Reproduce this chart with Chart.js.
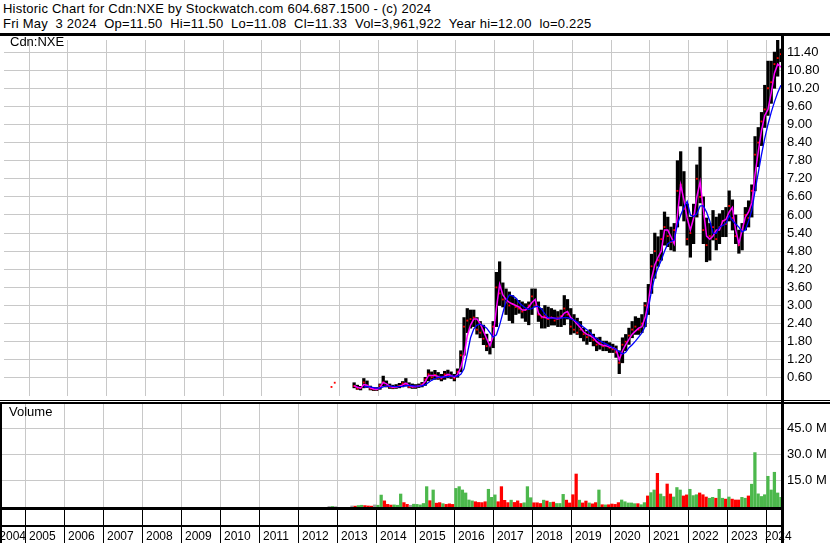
<!DOCTYPE html>
<html>
<head>
<meta charset="utf-8">
<script src="https://cdn.jsdelivr.net/npm/chart.js@4.4.1/dist/chart.umd.min.js"></script>
<style>
  body { margin: 0; background: #fff; }
  #wrap { position: relative; width: 830px; height: 543px; overflow: hidden; font-family: "Liberation Sans", Arial, sans-serif; color: #000; }
  #head { position: absolute; left: 3px; top: 1px; font-size: 13px; letter-spacing: 0.22px; line-height: 15px; white-space: pre; }
  .tag { position: absolute; font-size: 13px; line-height: 15px; }
  .ln { position: absolute; background: #000; }
  canvas { position: absolute; left: 0; }
</style>
</head>
<body>
<div id="wrap">
  <div id="head">Historic Chart for Cdn:NXE by Stockwatch.com 604.687.1500 - (c) 2024
Fri May  3 2024  Op=11.50  Hi=11.50  Lo=11.08  Cl=11.33  Vol=3,961,922  Year hi=12.00  lo=0.225</div>
  <canvas id="price" width="830" height="364" style="top:36px"></canvas>
  <canvas id="vol" width="830" height="142" style="top:401px"></canvas>
  <div class="tag" style="left:10px;top:34px">Cdn:NXE</div>
  <div class="tag" style="left:9px;top:404px">Volume</div>
  <div class="ln" style="left:0;top:33px;width:830px;height:3px"></div>
  <div class="ln" style="left:0;top:400px;width:830px;height:1px"></div>
  <div class="ln" style="left:0;top:402px;width:830px;height:2px"></div>
  <div class="ln" style="left:0;top:507px;width:784px;height:3px"></div>
  <div class="ln" style="left:0;top:525px;width:784px;height:2px"></div>
  <div class="ln" style="left:781px;top:36px;width:3px;height:507px"></div>
  <div class="ln" style="left:0;top:402px;width:2px;height:141px"></div>
</div>
<script>
// monthly bars, Oct 2012 .. May 2024
const months = [
  "2012-10", "2012-11", "2012-12",
  "2013-01", "2013-02", "2013-03", "2013-04", "2013-05", "2013-06", "2013-07", "2013-08", "2013-09", "2013-10", "2013-11", "2013-12",
  "2014-01", "2014-02", "2014-03", "2014-04", "2014-05", "2014-06", "2014-07", "2014-08", "2014-09", "2014-10", "2014-11", "2014-12",
  "2015-01", "2015-02", "2015-03", "2015-04", "2015-05", "2015-06", "2015-07", "2015-08", "2015-09", "2015-10", "2015-11", "2015-12",
  "2016-01", "2016-02", "2016-03", "2016-04", "2016-05", "2016-06", "2016-07", "2016-08", "2016-09", "2016-10", "2016-11", "2016-12",
  "2017-01", "2017-02", "2017-03", "2017-04", "2017-05", "2017-06", "2017-07", "2017-08", "2017-09", "2017-10", "2017-11", "2017-12",
  "2018-01", "2018-02", "2018-03", "2018-04", "2018-05", "2018-06", "2018-07", "2018-08", "2018-09", "2018-10", "2018-11", "2018-12",
  "2019-01", "2019-02", "2019-03", "2019-04", "2019-05", "2019-06", "2019-07", "2019-08", "2019-09", "2019-10", "2019-11", "2019-12",
  "2020-01", "2020-02", "2020-03", "2020-04", "2020-05", "2020-06", "2020-07", "2020-08", "2020-09", "2020-10", "2020-11", "2020-12",
  "2021-01", "2021-02", "2021-03", "2021-04", "2021-05", "2021-06", "2021-07", "2021-08", "2021-09", "2021-10", "2021-11", "2021-12",
  "2022-01", "2022-02", "2022-03", "2022-04", "2022-05", "2022-06", "2022-07", "2022-08", "2022-09", "2022-10", "2022-11", "2022-12",
  "2023-01", "2023-02", "2023-03", "2023-04", "2023-05", "2023-06", "2023-07", "2023-08", "2023-09", "2023-10", "2023-11", "2023-12",
  "2024-01", "2024-02", "2024-03", "2024-04", "2024-05"
];

const high = [
  null, null, null,
  null, null, null, null, 0.44, 0.36, 0.32, 0.58, 0.50, 0.33, 0.28, 0.28,
  0.40, 0.66, 0.50, 0.40, 0.36, 0.38, 0.42, 0.48, 0.58, 0.44, 0.40, 0.38,
  0.40, 0.45, 0.62, 0.87, 0.80, 0.85, 0.78, 0.72, 0.82, 0.86, 0.80, 0.72,
  0.90, 1.50, 2.60, 2.90, 2.85, 2.85, 2.60, 2.47, 2.35, 2.05, 1.80, 2.47,
  4.10, 4.45, 3.75, 3.55, 3.45, 3.33, 3.22, 3.17, 3.12, 3.06, 3.12, 3.55,
  3.55, 3.12, 2.90, 3.00, 2.95, 2.90, 2.85, 2.80, 2.85, 3.33, 3.20, 2.90,
  2.70, 2.58, 2.47, 2.25, 2.14, 2.20, 2.05, 1.93, 1.95, 1.82, 1.82, 1.77,
  1.72, 1.66, 1.50, 1.93, 2.04, 2.25, 2.47, 2.63, 2.58, 2.70, 3.10, 3.70,
  4.70, 5.40, 5.28, 5.50, 6.10, 5.93, 5.60, 5.72, 7.80, 8.10, 7.44, 6.36,
  5.93, 6.36, 7.66, 8.25, 6.60, 5.90, 5.72, 6.15, 5.93, 6.04, 6.15, 6.25,
  6.80, 6.50, 6.00, 5.50, 5.72, 6.25, 6.47, 7.00, 8.60, 8.90, 9.40, 10.30,
  11.10, 11.10, 11.40, 12.00, 11.50
];

const low = [
  null, null, null,
  null, null, null, null, 0.27, 0.22, 0.20, 0.27, 0.28, 0.20, 0.18, 0.18,
  0.22, 0.33, 0.30, 0.25, 0.24, 0.25, 0.27, 0.30, 0.33, 0.27, 0.25, 0.25,
  0.28, 0.30, 0.35, 0.50, 0.55, 0.55, 0.55, 0.50, 0.55, 0.60, 0.58, 0.50,
  0.62, 0.80, 1.35, 2.10, 2.25, 2.30, 2.05, 1.93, 1.70, 1.50, 1.39, 1.60,
  2.30, 3.00, 2.95, 2.70, 2.50, 2.42, 2.70, 2.74, 2.58, 2.47, 2.36, 2.70,
  2.95, 2.47, 2.25, 2.25, 2.30, 2.35, 2.35, 2.30, 2.30, 2.36, 2.55, 2.04,
  2.09, 2.04, 1.93, 1.82, 1.71, 1.80, 1.66, 1.50, 1.55, 1.50, 1.50, 1.44,
  1.44, 1.28, 0.74, 1.10, 1.50, 1.71, 1.93, 2.04, 2.04, 2.10, 2.30, 2.70,
  3.40, 3.90, 4.30, 4.50, 5.00, 4.95, 4.84, 4.80, 5.60, 6.30, 5.80, 5.00,
  4.60, 5.05, 5.93, 6.40, 5.05, 4.45, 4.50, 5.17, 4.84, 5.05, 5.28, 5.28,
  5.80, 5.50, 5.05, 4.73, 4.84, 5.50, 5.60, 5.93, 6.80, 7.60, 8.30, 8.90,
  9.30, 9.70, 10.20, 10.60, 11.08
];

const close = [
  0.30, 0.44, null,
  null, null, null, null, 0.33, 0.25, 0.27, 0.45, 0.31, 0.24, 0.22, 0.22,
  0.35, 0.45, 0.33, 0.30, 0.28, 0.30, 0.33, 0.42, 0.40, 0.30, 0.30, 0.32,
  0.34, 0.38, 0.55, 0.72, 0.62, 0.70, 0.60, 0.58, 0.72, 0.70, 0.65, 0.58,
  0.80, 1.35, 2.30, 2.50, 2.55, 2.60, 2.20, 2.10, 1.90, 1.65, 1.72, 2.30,
  3.60, 3.40, 3.20, 3.10, 3.00, 3.05, 2.95, 2.90, 2.80, 2.85, 3.00, 3.30,
  3.00, 2.70, 2.60, 2.65, 2.55, 2.60, 2.50, 2.60, 2.65, 2.90, 2.70, 2.30,
  2.20, 2.10, 2.20, 2.05, 1.95, 2.00, 1.85, 1.70, 1.75, 1.65, 1.70, 1.60,
  1.55, 1.45, 1.10, 1.70, 1.80, 2.00, 2.20, 2.30, 2.20, 2.40, 3.00, 2.95,
  4.30, 4.80, 4.50, 5.20, 5.60, 5.30, 5.10, 5.50, 6.80, 7.00, 6.20, 5.20,
  5.40, 6.00, 7.20, 6.60, 5.50, 5.00, 5.30, 5.60, 5.20, 5.60, 5.80, 5.70,
  6.30, 5.90, 5.30, 5.00, 5.50, 6.00, 5.90, 6.80, 8.00, 8.40, 9.10, 9.50,
  10.20, 10.40, 11.00, 11.20, 11.33
];

// short moving average (magenta)
const maFast = [
  null, null, null,
  null, null, null, null, 0.34, 0.29, 0.26, 0.38, 0.36, 0.27, 0.23, 0.22,
  0.28, 0.45, 0.40, 0.32, 0.29, 0.30, 0.32, 0.37, 0.43, 0.35, 0.31, 0.31,
  0.33, 0.36, 0.48, 0.68, 0.68, 0.68, 0.65, 0.60, 0.66, 0.72, 0.68, 0.62,
  0.72, 0.95, 1.35, 2.00, 2.35, 2.55, 2.55, 2.40, 2.15, 1.90, 1.66, 1.98,
  2.90, 3.70, 3.35, 3.20, 3.10, 3.05, 3.00, 2.95, 2.85, 2.85, 2.95, 3.10,
  3.20, 2.75, 2.63, 2.60, 2.58, 2.60, 2.58, 2.55, 2.60, 2.75, 2.80, 2.60,
  2.50, 2.38, 2.26, 2.12, 2.04, 2.00, 1.93, 1.80, 1.71, 1.68, 1.66, 1.62,
  1.60, 1.55, 1.20, 1.50, 1.70, 1.88, 2.05, 2.15, 2.25, 2.30, 2.60, 3.10,
  3.90, 4.35, 4.60, 4.80, 5.50, 5.50, 5.28, 5.05, 6.00, 7.00, 6.50, 5.90,
  5.50, 5.90, 6.60, 7.10, 6.20, 5.30, 5.20, 5.30, 5.50, 5.50, 5.80, 5.85,
  6.10, 6.25, 5.50, 5.05, 5.50, 5.93, 6.10, 6.40, 7.35, 8.10, 8.80, 9.30,
  9.50, 10.05, 10.70, 11.00, 10.90
];

// long moving average (blue)
const maSlow = [
  null, null, null,
  null, null, null, null, null, null, null, 0.30, 0.31, 0.30, 0.28, 0.26,
  0.26, 0.30, 0.33, 0.33, 0.32, 0.31, 0.31, 0.32, 0.34, 0.35, 0.34, 0.33,
  0.33, 0.34, 0.37, 0.45, 0.52, 0.58, 0.62, 0.63, 0.63, 0.64, 0.66, 0.66,
  0.66, 0.72, 0.90, 1.40, 1.93, 2.22, 2.35, 2.38, 2.33, 2.25, 2.10, 1.95,
  2.03, 2.35, 2.75, 3.15, 3.35, 3.32, 3.25, 3.10, 3.00, 2.92, 2.87, 2.90,
  2.97, 2.97, 2.88, 2.72, 2.60, 2.58, 2.58, 2.58, 2.58, 2.60, 2.60, 2.56,
  2.52, 2.45, 2.36, 2.28, 2.20, 2.10, 1.98, 1.90, 1.83, 1.77, 1.72, 1.66,
  1.60, 1.55, 1.47, 1.39, 1.45, 1.60, 1.70, 1.82, 1.95, 2.09, 2.30, 2.90,
  3.50, 3.96, 4.25, 4.50, 4.80, 5.05, 5.12, 5.17, 5.70, 6.00, 6.25, 6.45,
  6.00, 5.95, 6.04, 6.30, 6.30, 6.10, 5.80, 5.40, 5.39, 5.60, 5.65, 5.72,
  5.98, 5.82, 5.70, 5.60, 5.44, 5.50, 5.80, 6.15, 6.80, 7.40, 8.00, 8.54,
  9.00, 9.40, 9.75, 10.05, 10.30
];

// volume, millions of shares
const volume = [
  0.3, 0.3, 0.2,
  null, null, null, null, 0.6, 0.5, 0.8, 1.0, 0.8, 0.6, 0.5, 1.2,
  1.0, 6.8, 3.5, 1.5, 1.1, 1.2, 1.0, 7.4, 2.5, 1.5, 1.0, 1.6,
  1.5, 1.2, 2.0, 11.6, 3.6, 9.7, 2.2, 2.5, 1.9, 1.5, 1.8, 1.5,
  10.6, 11.6, 9.7, 8.0, 4.0, 3.5, 3.0, 2.6, 2.5, 3.0, 10.1, 5.5,
  6.9, 3.0, 11.6, 3.8, 2.5, 3.9, 2.6, 3.5, 2.0, 2.4, 11.6, 5.3,
  2.4, 2.4, 2.0, 3.9, 3.4, 2.6, 2.8, 2.0, 2.0, 7.2, 3.9, 2.3,
  7.0, 18.8, 3.9, 2.3, 3.4, 2.3, 1.8, 2.5, 9.7, 1.3, 1.2, 1.3,
  1.7, 1.5, 2.5, 4.0, 3.0, 2.3, 2.3, 1.9, 1.9, 1.3, 2.5, 6.3,
  8.2, 9.7, 19.2, 7.4, 6.0, 13.1, 7.4, 5.7, 11.1, 9.7, 6.3, 6.9,
  10.1, 6.5, 7.0, 8.0, 7.0, 5.7, 5.0, 5.5, 5.0, 10.1, 5.0, 4.5,
  5.7, 4.5, 4.0, 4.0, 5.5, 5.0, 6.3, 13.0, 31.0, 7.5, 6.0, 7.0,
  17.5, 9.7, 19.8, 8.0, 5.5
];

const years = ["2004", "2005", "2006", "2007", "2008", "2009", "2010", "2011", "2012", "2013", "2014",
  "2015", "2016", "2017", "2018", "2019", "2020", "2021", "2022", "2023", "2024"];
const priceTicks = [0.6, 1.2, 1.8, 2.4, 3.0, 3.6, 4.2, 4.8, 5.4, 6.0, 6.6, 7.2, 7.8, 8.4, 9.0, 9.6, 10.2, 10.8, 11.4];
const volTicks = [15, 30, 45];

const xMin = 2004.351;
const xMax = 2024.403;
const FONT = "'Liberation Sans', Arial, sans-serif";
Chart.defaults.font.family = FONT;

const t = months.map((m) => {
  const [y, mo] = m.split("-").map(Number);
  return y + (mo - 0.5) / 12;
});

function points(values) {
  const out = [];
  values.forEach((v, i) => {
    if (v != null) out.push({ x: t[i], y: v });
  });
  return out;
}

const ranges = [];
high.forEach((h, i) => {
  if (h != null) ranges.push({ x: t[i], y: [low[i], h] });
});

const volPoints = [];
const volColors = [];
volume.forEach((v, i) => {
  if (v == null) return;
  volPoints.push({ x: t[i], y: v });
  const c = close[i];
  const p = i > 0 ? close[i - 1] : null;
  if (c == null || p == null || c === p) volColors.push("#a0a0a0");
  else volColors.push(c > p ? "#4cb84c" : "#ff0000");
});

const yearTickValues = years.map(Number).filter((y) => y > xMin);
const gridColor = "#c8c8c8";

function noPad(s) {
  s.paddingTop = 0;
  s.paddingBottom = 0;
}

new Chart(document.getElementById("price"), {
  type: "bar",
  data: {
    datasets: [
      { type: "line", data: points(maSlow), borderColor: "#0000ff", borderWidth: 1.3, pointRadius: 0, order: 1 },
      { type: "line", data: points(maFast), borderColor: "#ff00ff", borderWidth: 1.5, pointRadius: 0, order: 2 },
      { type: "scatter", data: points(close), backgroundColor: "#ff0000", borderWidth: 0, pointStyle: "rect", pointRadius: 1.3, order: 3 },
      { type: "bar", data: ranges, backgroundColor: "#000", barThickness: 2.6, order: 4 }
    ]
  },
  options: {
    responsive: false,
    animation: false,
    layout: { padding: 0 },
    plugins: { legend: { display: false }, tooltip: { enabled: false } },
    scales: {
      x: {
        type: "linear", min: xMin, max: xMax, offset: false,
        ticks: { display: false },
        grid: { color: gridColor, drawTicks: false, offset: false },
        border: { display: false },
        afterBuildTicks: (s) => { s.ticks = yearTickValues.map((v) => ({ value: v })); },
        afterFit: (s) => { s.height = 0; }
      },
      y: {
        position: "right", min: 0, max: 11.8,
        ticks: { color: "#000", font: { size: 13 }, padding: 5, callback: (v) => v.toFixed(2) },
        grid: { color: gridColor, drawTicks: false },
        border: { display: false },
        afterBuildTicks: (s) => { s.ticks = priceTicks.map((v) => ({ value: v })); },
        afterFit: (s) => { s.width = 48; noPad(s); }
      }
    }
  }
});

const yearLabelPlugin = {
  id: "yearLabels",
  afterDraw(chart) {
    const { ctx } = chart;
    const x = chart.scales.x;
    ctx.save();
    ctx.font = "12px " + FONT;
    ctx.fillStyle = "#000";
    ctx.textAlign = "left";
    ctx.textBaseline = "alphabetic";
    years.forEach((y) => {
      let px = x.getPixelForValue(Number(y)) + 3.7;
      px = Math.min(Math.max(px, -0.7), 765);
      ctx.fillText(y, px, 138.5);
    });
    ctx.restore();
  }
};

new Chart(document.getElementById("vol"), {
  type: "bar",
  data: {
    datasets: [
      { data: volPoints, backgroundColor: volColors, barThickness: 2.6 }
    ]
  },
  options: {
    responsive: false,
    animation: false,
    layout: { padding: { top: 3, left: 0, right: 0, bottom: 0 } },
    plugins: { legend: { display: false }, tooltip: { enabled: false } },
    scales: {
      x: {
        type: "linear", min: xMin, max: xMax, offset: false,
        ticks: { display: false },
        grid: { color: gridColor, tickColor: "#000", drawTicks: true, tickLength: 36, offset: false },
        border: { display: false },
        afterBuildTicks: (s) => { s.ticks = yearTickValues.map((v) => ({ value: v })); },
        afterFit: (s) => { s.height = 36; }
      },
      y: {
        position: "right", min: 0, max: 58.7,
        ticks: { color: "#000", font: { size: 13 }, padding: 5, callback: (v) => v.toFixed(1) + " M" },
        grid: { color: gridColor, drawTicks: false },
        border: { display: false },
        afterBuildTicks: (s) => { s.ticks = volTicks.map((v) => ({ value: v })); },
        afterFit: (s) => { s.width = 48; noPad(s); }
      }
    }
  },
  plugins: [yearLabelPlugin]
});
</script>
</body>
</html>
